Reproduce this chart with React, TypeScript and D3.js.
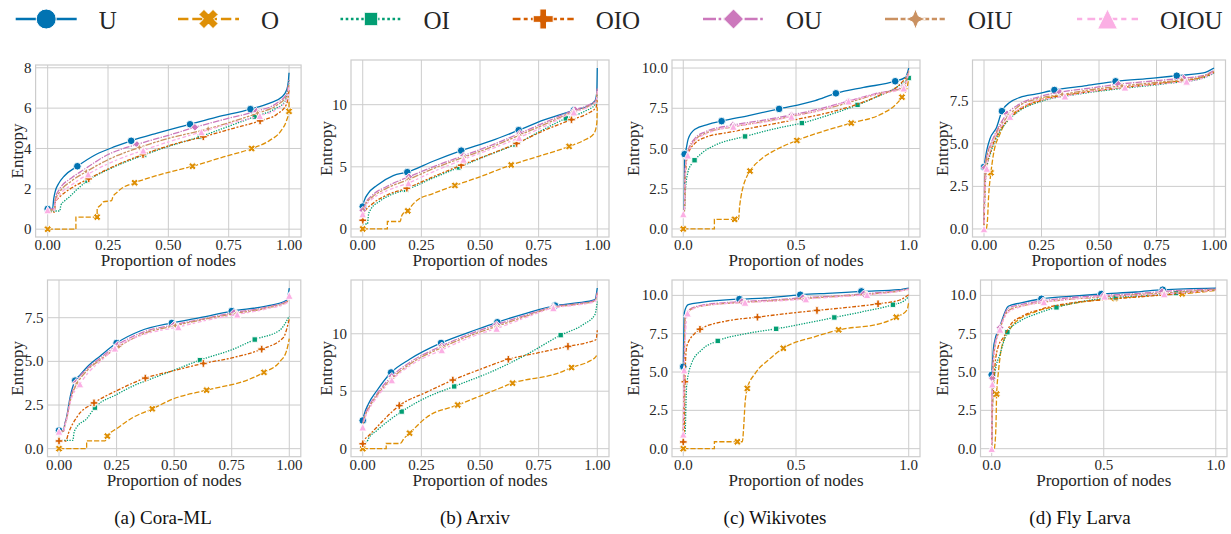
import * as d3 from "d3";

type Pt = [number, number] | [number, number, 1];

// series order: U, O, OI, OIO, OU, OIU, OIOU (seaborn colorblind palette)
const SERIES = ["U", "O", "OI", "OIO", "OU", "OIU", "OIOU"];
const COLORS = ["#0173b2", "#de8f05", "#029e73", "#d55e00", "#cc78bc", "#ca9161", "#fbafe4"];
const DASHES = [[], [4, 1.5], [1, 1], [3, 1.25, 1.5, 1.25], [5, 1, 1, 1], [5, 1, 2, 1, 2, 1], [2, 2, 3, 1.5]];
const MARKERS = ["o", "X", "s", "P", "D", "*4", "^"];

const captions = ["(a) Cora-ML", "(b) Arxiv", "(c) Wikivotes", "(d) Fly Larva"];

const xTicksFine = [0, 0.25, 0.5, 0.75, 1];
const xTicksCoarse = [0, 0.5, 1];
const yTicksCoraTop = [0, 2, 4, 6, 8];
const yTicksArxiv = [0, 5, 10];
const yTicksTen = [0, 2.5, 5, 7.5, 10];
const yTicksSeven = [0, 2.5, 5, 7.5];

// [proportion of nodes, entropy, 1 = marker drawn here]
const coraTop: Pt[][] = [
  [[0, 1.0, 1], [0.02, 1.0], [0.025, 1.5], [0.032, 1.9], [0.045, 2.25], [0.07, 2.65], [0.123, 3.12, 1], [0.2, 3.7], [0.28, 4.1], [0.346, 4.38, 1], [0.45, 4.75], [0.59, 5.2, 1], [0.7, 5.55], [0.84, 5.95, 1], [0.92, 6.25], [0.97, 6.55], [0.99, 6.9], [0.997, 7.3], [1.0, 7.75]],
  [[0, 0, 1], [0.117, 0], [0.117, 0.6], [0.205, 0.6, 1], [0.205, 1.0], [0.22, 1.2], [0.23, 1.35], [0.265, 1.42], [0.27, 1.6], [0.285, 1.8], [0.31, 2.05], [0.36, 2.3, 1], [0.45, 2.65], [0.6, 3.12, 1], [0.72, 3.55], [0.845, 4.0, 1], [0.92, 4.4], [0.965, 4.85], [0.99, 5.4], [1.0, 5.84, 1], [1.0, 6.4]],
  [[0, 0.9], [0.05, 0.9], [0.055, 1.2], [0.07, 1.4], [0.09, 1.6], [0.12, 1.95], [0.165, 2.4, 1], [0.25, 2.95], [0.4, 3.68, 1], [0.5, 4.1], [0.63, 4.58, 1], [0.75, 5.1], [0.858, 5.58, 1], [0.94, 5.95], [0.985, 6.35], [1.0, 7.4]],
  [[0, 0.85], [0.028, 0.85], [0.032, 1.35], [0.05, 1.6], [0.1, 2.05], [0.17, 2.5, 1], [0.28, 3.15], [0.395, 3.7, 1], [0.52, 4.2], [0.645, 4.58, 1], [0.77, 5.0], [0.88, 5.37, 1], [0.95, 5.7], [0.99, 6.2], [1.0, 6.9]],
  [[0, 1.0], [0.028, 1.0], [0.032, 1.55], [0.05, 2.0], [0.1, 2.55], [0.15, 2.95], [0.25, 3.7], [0.37, 4.2, 1], [0.5, 4.65], [0.61, 5.05, 1], [0.75, 5.5], [0.865, 5.85, 1], [0.95, 6.25], [0.99, 6.7], [1.0, 7.4]],
  [[0, 0.95], [0.028, 0.95], [0.032, 1.45], [0.05, 1.85], [0.1, 2.4], [0.16, 2.85, 1], [0.26, 3.5], [0.38, 4.05, 1], [0.5, 4.5], [0.665, 4.97, 1], [0.77, 5.35], [0.87, 5.75, 1], [0.95, 6.15], [0.99, 6.6], [1.0, 7.2]],
  [[0, 0.95, 1], [0.028, 0.95], [0.032, 1.3], [0.05, 1.7], [0.1, 2.2], [0.168, 2.73, 1], [0.28, 3.4], [0.396, 3.91, 1], [0.52, 4.4], [0.637, 4.82, 1], [0.76, 5.25], [0.879, 5.62, 1], [0.95, 5.95], [0.99, 6.4], [1.0, 7.1]],
];

const arxivTop: Pt[][] = [
  [[0, 1.8, 1], [0.005, 2.2], [0.024, 2.88], [0.06, 3.5], [0.13, 4.3], [0.19, 4.57, 1], [0.3, 5.45], [0.42, 6.3, 1], [0.55, 7.1], [0.665, 7.95, 1], [0.77, 8.75], [0.9, 9.55, 1], [0.96, 9.9], [0.99, 10.3], [0.998, 11], [1.0, 12.95]],
  [[0, 0, 1], [0.105, 0], [0.105, 0.6], [0.16, 0.6], [0.165, 1.0], [0.175, 1.3], [0.192, 1.45, 1], [0.21, 1.9], [0.235, 2.35], [0.3, 2.85], [0.393, 3.5, 1], [0.5, 4.2], [0.633, 5.15, 1], [0.75, 5.85], [0.88, 6.64, 1], [0.95, 7.2], [0.985, 7.65], [0.998, 8.5], [1.0, 9.8]],
  [[0, 0.4], [0.02, 0.4], [0.025, 1.2], [0.035, 1.6], [0.07, 2.2], [0.12, 2.75], [0.185, 3.15, 1], [0.3, 4.1], [0.41, 4.95, 1], [0.53, 5.9], [0.65, 6.8, 1], [0.76, 7.9], [0.866, 8.9, 1], [0.95, 9.5], [0.99, 10.0], [1.0, 10.8]],
  [[0, 0.7, 1], [0.01, 1.4], [0.04, 2.0], [0.1, 2.7], [0.188, 3.28, 1], [0.3, 4.2], [0.42, 5.13, 1], [0.54, 6.0], [0.656, 6.88, 1], [0.77, 7.9], [0.89, 8.8, 1], [0.96, 9.3], [0.995, 9.8], [1.0, 10.4]],
  [[0, 1.5, 1], [0.01, 2.0], [0.04, 2.7], [0.1, 3.4], [0.197, 4.2, 1], [0.3, 5.0], [0.43, 5.9, 1], [0.55, 6.75], [0.67, 7.7, 1], [0.78, 8.6], [0.905, 9.6, 1], [0.96, 9.95], [0.995, 10.4], [1.0, 11.3]],
  [[0, 1.4], [0.01, 1.9], [0.04, 2.55], [0.1, 3.25], [0.195, 3.98, 1], [0.3, 4.85], [0.432, 5.78, 1], [0.55, 6.6], [0.668, 7.55, 1], [0.78, 8.45], [0.9, 9.45, 1], [0.96, 9.85], [0.995, 10.3], [1.0, 11.2]],
  [[0, 1.2, 1], [0.01, 1.75], [0.04, 2.4], [0.1, 3.05], [0.195, 3.7, 1], [0.3, 4.6], [0.43, 5.6, 1], [0.55, 6.45], [0.667, 7.35, 1], [0.78, 8.3], [0.9, 9.4, 1], [0.96, 9.8], [0.995, 10.25], [1.0, 11.1]],
];

const wikiTop: Pt[][] = [
  [[0, 1.0], [0.004, 1.0], [0.006, 4.65, 1], [0.01, 4.8], [0.022, 5.6], [0.052, 6.2], [0.11, 6.5], [0.17, 6.7, 1], [0.29, 7.05], [0.425, 7.46, 1], [0.585, 7.98], [0.677, 8.43, 1], [0.8, 8.8], [0.94, 9.18, 1], [0.985, 9.42], [1.0, 10.0]],
  [[0, 0, 1], [0.138, 0], [0.138, 0.6], [0.228, 0.6, 1], [0.245, 0.6], [0.25, 1.4], [0.256, 2.0], [0.265, 2.6], [0.28, 3.2], [0.296, 3.6, 1], [0.348, 4.37], [0.407, 4.89], [0.504, 5.5, 1], [0.659, 6.23], [0.745, 6.58, 1], [0.88, 7.15], [0.94, 7.7], [0.97, 8.19, 1], [0.993, 8.8], [1.0, 9.4]],
  [[0, 1.0], [0.004, 1.0], [0.01, 2.5], [0.02, 3.5], [0.035, 4.0], [0.05, 4.27, 1], [0.09, 4.8], [0.14, 5.2], [0.274, 5.75, 1], [0.407, 6.23], [0.526, 6.58, 1], [0.65, 7.1], [0.773, 7.71, 1], [0.88, 8.35], [0.94, 8.75], [0.985, 9.2], [1.0, 9.38, 1]],
  [[0, 0.9], [0.004, 0.9], [0.01, 3.5], [0.02, 4.6], [0.05, 5.3], [0.1, 5.7], [0.2, 6.0], [0.35, 6.4], [0.5, 6.8], [0.65, 7.25], [0.75, 7.65], [0.87, 8.3], [0.95, 8.85], [1.0, 9.6]],
  [[0, 1.0], [0.004, 1.0], [0.01, 4.0], [0.02, 4.8], [0.05, 5.6], [0.1, 6.05], [0.22, 6.45, 1], [0.35, 6.75], [0.48, 7.08, 1], [0.6, 7.45], [0.733, 7.95, 1], [0.85, 8.4], [0.978, 8.85, 1], [1.0, 9.9]],
  [[0, 1.0], [0.004, 1.0], [0.01, 3.9], [0.02, 4.7], [0.05, 5.5], [0.1, 5.95], [0.22, 6.35, 1], [0.35, 6.65], [0.48, 7.0, 1], [0.6, 7.35], [0.733, 7.85, 1], [0.85, 8.35], [0.978, 8.8, 1], [1.0, 9.8]],
  [[0, 0.93, 1], [0.004, 0.93], [0.01, 3.8], [0.02, 4.58, 1], [0.05, 5.45], [0.1, 5.9], [0.222, 6.37, 1], [0.35, 6.62], [0.48, 6.99, 1], [0.6, 7.35], [0.733, 7.94, 1], [0.85, 8.35], [0.978, 8.75, 1], [1.0, 9.7]],
];

const flyTop: Pt[][] = [
  [[0, 3.64, 1], [0.012, 4.62], [0.026, 5.3], [0.055, 5.98], [0.078, 6.92, 1], [0.113, 7.44], [0.157, 7.73], [0.229, 7.93], [0.306, 8.16, 1], [0.446, 8.42], [0.572, 8.67, 1], [0.736, 8.86], [0.838, 9.0, 1], [0.954, 9.16], [1.0, 9.45]],
  [[0.01, 0], [0.015, 0.5], [0.02, 1.9], [0.03, 3.3, 1], [0.04, 4.3], [0.07, 5.6], [0.1, 6.4], [0.15, 7.0], [0.25, 7.6], [0.4, 7.95], [0.6, 8.3], [0.8, 8.6], [0.95, 8.9], [1.0, 9.2]],
  [[0, 0.3], [0.005, 2.5], [0.01, 3.4], [0.03, 4.5], [0.06, 5.5], [0.1, 6.3], [0.15, 6.9], [0.25, 7.5], [0.4, 7.9], [0.6, 8.25], [0.8, 8.55], [0.95, 8.85], [1.0, 9.15]],
  [[0, 0.2], [0.005, 2.7], [0.01, 3.5], [0.03, 4.6], [0.06, 5.6], [0.1, 6.35], [0.15, 6.95], [0.25, 7.55], [0.4, 7.95], [0.6, 8.3], [0.8, 8.6], [0.95, 8.9], [1.0, 9.2]],
  [[0, 0.3], [0.004, 3.6, 1], [0.012, 4.3], [0.03, 5.0], [0.06, 5.9], [0.1, 6.76, 1], [0.15, 7.3], [0.25, 7.8], [0.33, 8.03, 1], [0.45, 8.25], [0.584, 8.5, 1], [0.7, 8.65], [0.867, 8.86, 1], [0.95, 9.0], [1.0, 9.3]],
  [[0, 0.2], [0.005, 3.4], [0.012, 4.2], [0.03, 4.9], [0.06, 5.8], [0.11, 6.7, 1], [0.15, 7.2], [0.25, 7.7], [0.34, 7.9, 1], [0.45, 8.15], [0.6, 8.4, 1], [0.75, 8.6], [0.86, 8.75, 1], [0.95, 8.95], [1.0, 9.25]],
  [[0, 0, 1], [0.004, 2.0], [0.012, 3.55, 1], [0.03, 4.8], [0.06, 5.7], [0.113, 6.6, 1], [0.2, 7.4], [0.352, 7.8, 1], [0.48, 8.1], [0.613, 8.32, 1], [0.75, 8.5], [0.881, 8.67, 1], [0.95, 8.85], [1.0, 9.2]],
];

const coraBottom: Pt[][] = [
  [[0, 1.04, 1], [0.02, 1.04], [0.025, 1.4], [0.033, 1.8], [0.048, 2.94], [0.07, 3.9, 1], [0.09, 4.2], [0.12, 4.65], [0.178, 5.3], [0.25, 6.05, 1], [0.352, 6.74], [0.49, 7.2, 1], [0.612, 7.5], [0.75, 7.88, 1], [0.9, 8.16], [0.988, 8.5], [1.0, 9.2]],
  [[0, 0, 1], [0.12, 0], [0.12, 0.45], [0.2, 0.45], [0.21, 0.72, 1], [0.25, 1.14], [0.323, 1.8], [0.405, 2.28, 1], [0.496, 2.85], [0.641, 3.35, 1], [0.829, 3.99], [0.89, 4.37, 1], [0.96, 5.0], [0.988, 5.6], [1.0, 6.3]],
  [[0, 0.47], [0.06, 0.47], [0.065, 0.9], [0.077, 1.23], [0.12, 1.71], [0.156, 2.35, 1], [0.25, 3.1], [0.323, 3.6], [0.4, 4.0], [0.5, 4.5], [0.612, 5.07, 1], [0.757, 5.7], [0.85, 6.25, 1], [0.96, 6.8], [1.0, 7.6]],
  [[0, 0.44, 1], [0.03, 0.44], [0.04, 0.85], [0.077, 1.8], [0.152, 2.62, 1], [0.25, 3.32], [0.375, 4.04, 1], [0.496, 4.46], [0.627, 4.88, 1], [0.757, 5.22], [0.88, 5.7, 1], [0.974, 6.36], [1.0, 7.44]],
  [[0, 1.0], [0.02, 1.0], [0.025, 1.35], [0.035, 1.9], [0.05, 2.9], [0.075, 3.8, 1], [0.12, 4.55], [0.18, 5.2], [0.255, 5.95, 1], [0.36, 6.65], [0.5, 7.1, 1], [0.62, 7.42], [0.76, 7.8, 1], [0.9, 8.1], [0.99, 8.45], [1.0, 8.9]],
  [[0, 1.0], [0.02, 1.0], [0.025, 1.3], [0.035, 1.8], [0.05, 2.8], [0.08, 3.75, 1], [0.12, 4.45], [0.18, 5.1], [0.26, 5.85, 1], [0.36, 6.55], [0.505, 7.05, 1], [0.62, 7.38], [0.77, 7.75, 1], [0.9, 8.05], [0.99, 8.4], [1.0, 8.85]],
  [[0, 0.99, 1], [0.02, 0.99], [0.025, 1.3], [0.035, 1.75], [0.05, 2.7], [0.091, 3.7, 1], [0.13, 4.4], [0.18, 5.0], [0.243, 5.75, 1], [0.36, 6.5], [0.518, 6.97, 1], [0.64, 7.35], [0.774, 7.69, 1], [0.9, 8.0], [0.99, 8.35], [1.0, 8.77, 1]],
];

const arxivBottom: Pt[][] = [
  [[0, 2.45, 1], [0.005, 2.9], [0.024, 3.89], [0.06, 5.04], [0.121, 6.63, 1], [0.2, 7.78], [0.334, 9.2, 1], [0.486, 10.37], [0.574, 11.0, 1], [0.7, 11.8], [0.82, 12.45, 1], [0.912, 12.68], [0.99, 12.97], [1.0, 13.98]],
  [[0, 0, 1], [0.1, 0], [0.1, 0.45], [0.16, 0.45], [0.175, 0.86], [0.2, 1.35, 1], [0.273, 2.74], [0.405, 3.8, 1], [0.557, 5.04], [0.639, 5.7, 1], [0.841, 6.63], [0.89, 7.06, 1], [0.969, 7.64], [0.994, 8.0], [1.0, 8.3]],
  [[0, 0.5], [0.017, 0.58], [0.025, 0.9], [0.06, 1.58], [0.166, 3.23, 1], [0.273, 4.47], [0.39, 5.42, 1], [0.557, 6.77], [0.7, 8.21], [0.844, 9.88, 1], [0.94, 10.8], [0.99, 11.67], [1.0, 12.8]],
  [[0, 0.43, 1], [0.005, 0.7], [0.024, 1.1], [0.06, 1.87], [0.156, 3.75, 1], [0.27, 4.9], [0.384, 5.97, 1], [0.5, 6.9], [0.621, 7.78, 1], [0.75, 8.35], [0.875, 8.9, 1], [0.96, 9.25], [0.995, 9.5], [1.0, 10.3]],
  [[0, 2.2], [0.005, 2.65], [0.024, 3.6], [0.06, 4.75], [0.124, 6.3, 1], [0.2, 7.5], [0.337, 8.95, 1], [0.486, 10.2], [0.571, 10.8, 1], [0.7, 11.65], [0.813, 12.35, 1], [0.912, 12.6], [0.99, 12.9], [1.0, 13.6]],
  [[0, 2.0], [0.005, 2.5], [0.024, 3.45], [0.06, 4.6], [0.124, 6.1, 1], [0.2, 7.35], [0.337, 8.8, 1], [0.486, 10.05], [0.571, 10.65, 1], [0.7, 11.55], [0.813, 12.3, 1], [0.912, 12.55], [0.99, 12.85], [1.0, 13.5]],
  [[0, 1.87, 1], [0.005, 2.35], [0.024, 3.3], [0.06, 4.45], [0.124, 5.97, 1], [0.2, 7.2], [0.337, 8.59, 1], [0.486, 9.9], [0.571, 10.46, 1], [0.7, 11.45], [0.813, 12.25, 1], [0.912, 12.5], [0.99, 12.8], [1.0, 13.4]],
];

const wikiBottom: Pt[][] = [
  [[0, 5.35, 1], [0.005, 8.89], [0.022, 9.39], [0.081, 9.54], [0.249, 9.76, 1], [0.363, 9.83], [0.519, 10.04, 1], [0.66, 10.15], [0.79, 10.26, 1], [0.956, 10.37], [1.0, 10.48]],
  [[0, 0, 1], [0.138, 0], [0.138, 0.45], [0.24, 0.45, 1], [0.262, 0.45], [0.267, 1.2], [0.274, 2.95], [0.284, 3.93, 1], [0.319, 4.91], [0.378, 5.79], [0.444, 6.55, 1], [0.585, 7.31], [0.689, 7.75, 1], [0.881, 8.19], [0.945, 8.58, 1], [0.993, 9.06], [1.0, 9.6]],
  [[0, 0.9], [0.008, 0.9], [0.012, 3.0], [0.015, 4.15], [0.037, 5.57], [0.081, 6.44], [0.153, 7.03, 1], [0.289, 7.53], [0.412, 7.82, 1], [0.55, 8.2], [0.67, 8.56, 1], [0.8, 8.95], [0.93, 9.39, 1], [0.98, 9.65], [1.0, 9.93]],
  [[0, 0.44, 1], [0.004, 0.44], [0.007, 4.37, 1], [0.015, 6.66], [0.052, 7.53], [0.074, 7.79, 1], [0.2, 8.35], [0.329, 8.58, 1], [0.45, 8.8], [0.593, 9.02, 1], [0.75, 9.25], [0.864, 9.45, 1], [0.96, 9.7], [1.0, 10.04]],
  [[0, 1.0], [0.004, 5.2], [0.008, 8.6], [0.02, 9.0], [0.08, 9.35], [0.26, 9.6, 1], [0.4, 9.7], [0.53, 9.85, 1], [0.7, 9.98], [0.8, 10.1, 1], [0.95, 10.3], [1.0, 10.42]],
  [[0, 1.0], [0.004, 5.1], [0.008, 8.5], [0.02, 8.95], [0.08, 9.3], [0.27, 9.55, 1], [0.4, 9.65], [0.54, 9.8, 1], [0.7, 9.95], [0.81, 10.06, 1], [0.95, 10.27], [1.0, 10.4]],
  [[0, 0.94, 1], [0.004, 5.13, 1], [0.019, 8.84, 1], [0.08, 9.3], [0.274, 9.54, 1], [0.4, 9.62], [0.544, 9.76, 1], [0.7, 9.92], [0.815, 10.04, 1], [0.95, 10.25], [1.0, 10.4]],
];

const flyBottom: Pt[][] = [
  [[0, 4.82, 1], [0.01, 6.8], [0.037, 8.0], [0.074, 9.29], [0.126, 9.5], [0.222, 9.78, 1], [0.348, 9.94], [0.489, 10.09, 1], [0.644, 10.22], [0.763, 10.37, 1], [1.0, 10.48]],
  [[0.012, 0], [0.019, 1.5], [0.022, 3.56, 1], [0.03, 5.0], [0.044, 6.59], [0.07, 7.5], [0.096, 8.1], [0.2, 8.96], [0.3, 9.3], [0.422, 9.61], [0.55, 9.8, 1], [0.719, 10.0], [0.85, 10.1, 1], [1.0, 10.32]],
  [[0, 0], [0.005, 3.5], [0.015, 5.0], [0.037, 6.16], [0.07, 7.6, 1], [0.126, 8.32], [0.2, 8.8], [0.289, 9.22, 1], [0.422, 9.65], [0.553, 9.87, 1], [0.7, 10.0], [0.822, 10.15, 1], [1.0, 10.37]],
  [[0, 0], [0.004, 2.9], [0.015, 5.5], [0.03, 6.7], [0.052, 7.24], [0.09, 8.2], [0.13, 8.6], [0.22, 9.1], [0.35, 9.5], [0.5, 9.72], [0.7, 9.95], [1.0, 10.37]],
  [[0, 0], [0.003, 4.6, 1], [0.012, 6.6], [0.037, 7.9, 1], [0.074, 9.15], [0.13, 9.4], [0.23, 9.65, 1], [0.35, 9.85], [0.5, 10.0, 1], [0.65, 10.12], [0.76, 10.25, 1], [1.0, 10.42]],
  [[0, 0], [0.004, 4.4], [0.012, 6.4], [0.037, 7.8], [0.074, 9.0], [0.13, 9.3], [0.23, 9.55, 1], [0.35, 9.75], [0.5, 9.9, 1], [0.65, 10.05], [0.77, 10.15, 1], [1.0, 10.38]],
  [[0, 0, 1], [0.003, 4.21, 1], [0.012, 6.3], [0.037, 7.78, 1], [0.074, 8.9], [0.13, 9.25], [0.233, 9.57, 1], [0.35, 9.75], [0.504, 9.94, 1], [0.65, 10.0], [0.77, 10.09, 1], [1.0, 10.35]],
];

const FONT = "Liberation Serif, DejaVu Serif, serif";
const GRID = "#cccccc";
const TEXT = "#262626";

const W = 1231;
const H = 534;

// plot boxes (pixels) of the 8 subplots
const boxes = [
  { left: 35.6, right: 301.1, top: 65, bottom: 237, labelX: 16.7 },
  { left: 351, right: 609, top: 60, bottom: 237, labelX: 326 },
  { left: 672, right: 920, top: 60, bottom: 237, labelX: 633 },
  { left: 972.5, right: 1225.5, top: 60, bottom: 237, labelX: 941.7 },
  { left: 47.5, right: 300.8, top: 280, bottom: 456.7, labelX: 17.3 },
  { left: 351, right: 609, top: 280, bottom: 456.7, labelX: 326 },
  { left: 672, right: 920, top: 280, bottom: 456.7, labelX: 633 },
  { left: 980.5, right: 1227, top: 280, bottom: 456.7, labelX: 941.7 },
];

const panels = [
  { data: coraTop, xTicks: xTicksFine, xFmt: ".2f", yTicks: yTicksCoraTop, yFmt: "d" },
  { data: arxivTop, xTicks: xTicksFine, xFmt: ".2f", yTicks: yTicksArxiv, yFmt: "d" },
  { data: wikiTop, xTicks: xTicksCoarse, xFmt: ".1f", yTicks: yTicksTen, yFmt: ".1f" },
  { data: flyTop, xTicks: xTicksFine, xFmt: ".2f", yTicks: yTicksSeven, yFmt: ".1f" },
  { data: coraBottom, xTicks: xTicksFine, xFmt: ".2f", yTicks: yTicksSeven, yFmt: ".1f" },
  { data: arxivBottom, xTicks: xTicksFine, xFmt: ".2f", yTicks: yTicksArxiv, yFmt: "d" },
  { data: wikiBottom, xTicks: xTicksCoarse, xFmt: ".1f", yTicks: yTicksTen, yFmt: ".1f" },
  { data: flyBottom, xTicks: xTicksCoarse, xFmt: ".1f", yTicks: yTicksTen, yFmt: ".1f" },
];

function polygon(pts: [number, number][]) {
  return "M" + pts.map((p) => `${p[0].toFixed(2)},${p[1].toFixed(2)}`).join("L") + "Z";
}

// matplotlib-like marker outlines, ms = marker size in px
function markerPath(kind: string, ms: number): string {
  const r = ms / 2;
  if (kind === "o") return d3.symbol(d3.symbolCircle, Math.PI * r * r)() as string;
  if (kind === "s") {
    const h = r / Math.SQRT2;
    return polygon([[-h, -h], [h, -h], [h, h], [-h, h]]);
  }
  if (kind === "D") return polygon([[0, -r], [r, 0], [0, r], [-r, 0]]);
  if (kind === "^") return polygon([[0, -r], [r, r], [-r, r]]);
  if (kind === "*4") {
    const pts: [number, number][] = [];
    for (let i = 0; i < 8; i++) {
      const a = -Math.PI / 2 + (i * Math.PI) / 4;
      const rr = i % 2 === 0 ? r : r * 0.42;
      pts.push([rr * Math.cos(a), rr * Math.sin(a)]);
    }
    return polygon(pts);
  }
  // filled plus ("P") or its 45 degree rotation ("X")
  const a = kind === "X" ? r * 0.36 : r / 3;
  const base: [number, number][] = [
    [-a, -r], [a, -r], [a, -a], [r, -a], [r, a], [a, a],
    [a, r], [-a, r], [-a, a], [-r, a], [-r, -a], [-a, -a],
  ];
  if (kind === "X") {
    const c = Math.SQRT1_2;
    return polygon(base.map(([x, y]) => [c * (x - y), c * (x + y)] as [number, number]));
  }
  return polygon(base);
}

function Panel({ box, panel }: { box: (typeof boxes)[number]; panel: (typeof panels)[number] }) {
  const all = panel.data.flat();
  const yMax = d3.max(all, (d) => d[1]) as number;
  const yMin = d3.min(all, (d) => d[1]) as number;
  const pad = (yMax - yMin) * 0.05;

  const x = d3.scaleLinear().domain([-0.05, 1.05]).range([box.left, box.right]);
  const y = d3.scaleLinear().domain([yMin - pad, yMax + pad]).range([box.bottom, box.top]);
  const line = d3
    .line<Pt>()
    .x((d) => x(d[0]))
    .y((d) => y(d[1]))
    .curve(d3.curveMonotoneX);

  const xf = d3.format(panel.xFmt);
  const yf = d3.format(panel.yFmt);
  const lw = 1.3;
  const ms = 7.6;

  return (
    <g>
      {panel.xTicks.map((t) => (
        <line key={"gx" + t} x1={x(t)} x2={x(t)} y1={box.top} y2={box.bottom} stroke={GRID} strokeWidth={1} />
      ))}
      {panel.yTicks.map((t) => (
        <line key={"gy" + t} x1={box.left} x2={box.right} y1={y(t)} y2={y(t)} stroke={GRID} strokeWidth={1} />
      ))}
      <rect
        x={box.left}
        y={box.top}
        width={box.right - box.left}
        height={box.bottom - box.top}
        fill="none"
        stroke={GRID}
        strokeWidth={1.2}
      />

      {panel.data.map((s, i) => (
        <g key={SERIES[i]}>
          <path
            d={line(s) ?? ""}
            fill="none"
            stroke={COLORS[i]}
            strokeWidth={lw}
            strokeDasharray={DASHES[i].map((v) => v * lw).join(" ") || undefined}
          />
          {s
            .filter((d) => d[2] === 1)
            .map((d, k) => (
              <path
                key={k}
                d={markerPath(MARKERS[i], ms)}
                transform={`translate(${x(d[0])},${y(d[1])})`}
                fill={COLORS[i]}
                stroke="#ffffff"
                strokeWidth={0.9}
              />
            ))}
        </g>
      ))}

      {panel.xTicks.map((t) => (
        <text
          key={"tx" + t}
          x={x(t)}
          y={box.bottom + 13}
          textAnchor="middle"
          fontFamily={FONT}
          fontSize={15}
          fill={TEXT}>
          {xf(t)}
        </text>
      ))}
      {panel.yTicks.map((t) => (
        <text
          key={"ty" + t}
          x={box.left - 4}
          y={y(t)}
          dy="0.34em"
          textAnchor="end"
          fontFamily={FONT}
          fontSize={15}
          fill={TEXT}>
          {yf(t)}
        </text>
      ))}
      <text
        x={(box.left + box.right) / 2}
        y={box.bottom + 29}
        textAnchor="middle"
        fontFamily={FONT}
        fontSize={17}
        fill={TEXT}>
        Proportion of nodes
      </text>
      <text
        transform={`translate(${box.labelX + 6},${(box.top + box.bottom) / 2}) rotate(-90)`}
        textAnchor="middle"
        fontFamily={FONT}
        fontSize={17}
        fill={TEXT}>
        Entropy
      </text>
    </g>
  );
}

// legend entry positions (left end of the line sample)
const legendX = [15.7, 178, 340.5, 512.7, 703, 885, 1077];
const captionX = [163, 475, 775, 1080];

export default function App() {
  const llw = 2.6;
  return (
    <svg
      width={W}
      height={H}
      style={{ position: "absolute", left: 0, top: 0, background: "#ffffff" }}
      fontFamily={FONT}>
      <rect width={W} height={H} fill="#ffffff" />

      {SERIES.map((name, i) => {
        const x0 = legendX[i];
        return (
          <g key={name}>
            <line
              x1={x0}
              x2={x0 + 61}
              y1={19}
              y2={19}
              stroke={COLORS[i]}
              strokeWidth={llw}
              strokeDasharray={DASHES[i].map((v) => v * llw).join(" ") || undefined}
            />
            <path
              d={markerPath(MARKERS[i], i === 2 ? 19 : 20)}
              transform={`translate(${x0 + 30.5},19)`}
              fill={COLORS[i]}
              stroke="#ffffff"
              strokeWidth={1}
            />
            <text x={x0 + 83} y={29.3} fontFamily={FONT} fontSize={25} fill={TEXT}>
              {name}
            </text>
          </g>
        );
      })}

      {panels.map((p, i) => (
        <Panel key={i} box={boxes[i]} panel={p} />
      ))}

      {captions.map((c, i) => (
        <text
          key={c}
          x={captionX[i]}
          y={524}
          textAnchor="middle"
          fontFamily={FONT}
          fontSize={19}
          fill="#111111">
          {c}
        </text>
      ))}
    </svg>
  );
}
